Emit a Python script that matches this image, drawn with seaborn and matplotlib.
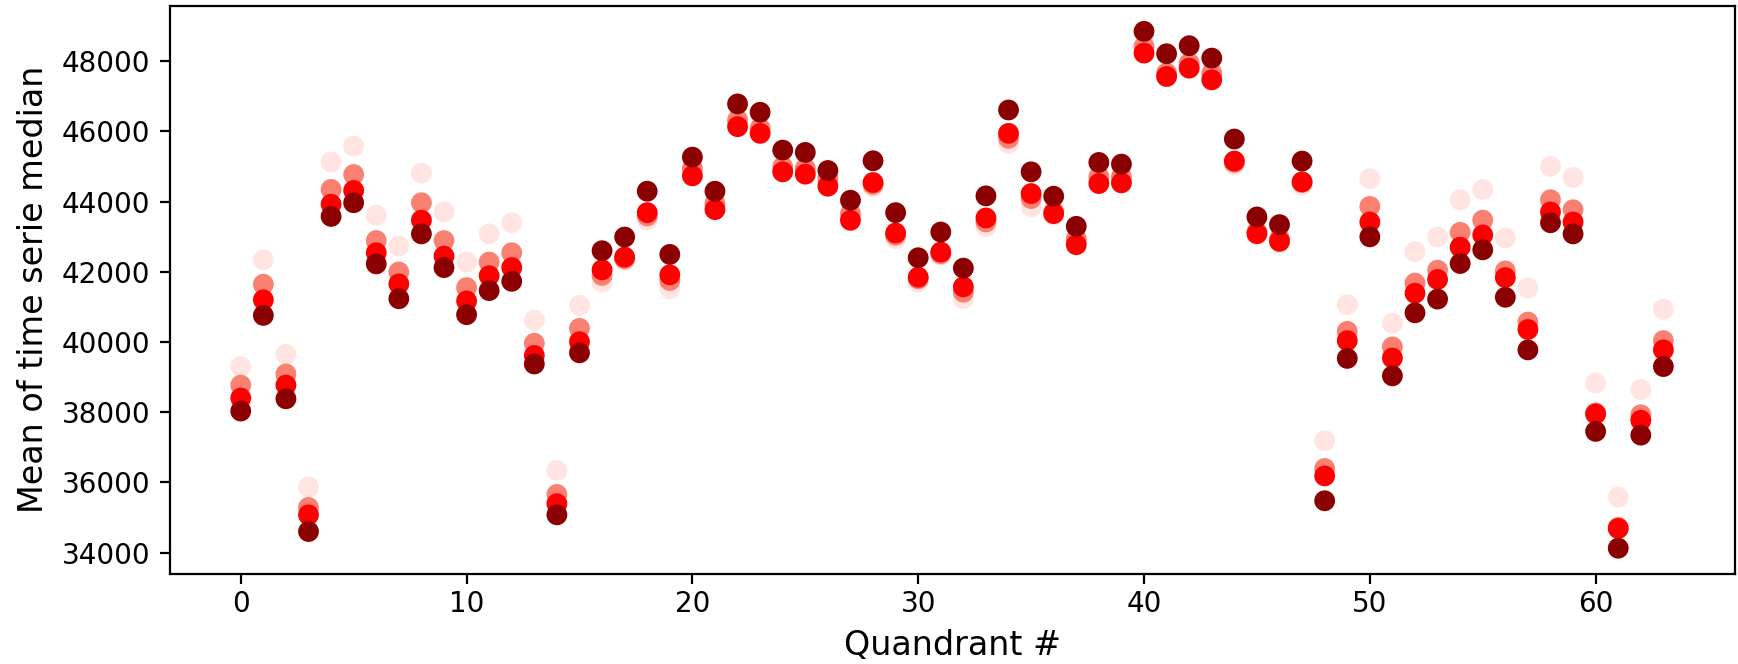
import numpy as np
import pandas as pd
import matplotlib
matplotlib.use("Agg")
import matplotlib.pyplot as plt
import seaborn as sns

quadrants = list(range(64))

# Mean of the time-series median per quadrant, one list per series
series_a = [39301, 42341, 39649, 35870, 45128, 45582, 43608, 42732, 44812, 43703,
            42278, 43080, 43397, 40621, 36345, 41043, 41704, 42324, 43466, 41514,
            44847, 43847, 46228, 45990, 44924, 44866, 44514, 43514, 44419, 42943,
            41705, 42466, 41228, 43276, 45657, 43847, 43609, 42847, 44609, 44609,
            48324, 47610, 47848, 47562, 45039, 43057, 42829, 44467, 37190, 41064,
            44653, 40536, 42574, 42996, 44052, 44347, 42964, 41539, 45002, 44685,
            38826, 35585, 38646, 40937]
series_b = [38773, 41645, 39090, 35289, 44347, 44770, 42890, 41993, 43967, 42890,
            41550, 42278, 42542, 39966, 35659, 40388, 41895, 42371, 43590, 41752,
            44943, 43943, 46324, 46085, 44990, 44943, 44657, 43657, 44486, 43038,
            41800, 42514, 41419, 43419, 45800, 44085, 43705, 42943, 44705, 44705,
            48419, 47658, 47943, 47658, 45115, 43134, 42943, 44543, 36398, 40304,
            43862, 39861, 41676, 42046, 43123, 43471, 42025, 40568, 44052, 43767,
            37980, 34720, 37929, 40040]
series_c = [38404, 41201, 38773, 35078, 43925, 44316, 42542, 41655, 43471, 42447,
            41170, 41888, 42120, 39618, 35395, 40008, 42057, 42419, 43685, 41914,
            44733, 43771, 46133, 45943, 44847, 44781, 44438, 43466, 44543, 43105,
            41847, 42562, 41571, 43533, 45943, 44228, 43657, 42771, 44514, 44533,
            48229, 47562, 47800, 47467, 45153, 43086, 42867, 44562, 36187, 40040,
            43418, 39544, 41391, 41782, 42700, 43049, 41835, 40357, 43703, 43418,
            37950, 34688, 37770, 39776]
series_d = [38034, 40758, 38383, 34603, 43577, 43967, 42225, 41233, 43080, 42120,
            40779, 41465, 41729, 39375, 35078, 39692, 42600, 42990, 44295, 42495,
            45266, 44295, 46781, 46543, 45466, 45400, 44885, 44038, 45162, 43685,
            42400, 43133, 42104, 44162, 46609, 44847, 44152, 43295, 45114, 45066,
            48848, 48210, 48439, 48086, 45781, 43562, 43343, 45153, 35479, 39533,
            42996, 39037, 40832, 41222, 42236, 42626, 41275, 39776, 43397, 43080,
            37454, 34128, 37348, 39301]

series_names = ["a", "b", "c", "d"]
series_colors = ["mistyrose", "salmon", "red", "darkred"]

frames = []
for name, vals in zip(series_names, [series_a, series_b, series_c, series_d]):
    frames.append(pd.DataFrame({"quadrant": quadrants, "value": vals, "series": name}))
df = pd.concat(frames, ignore_index=True)

fig = plt.figure(figsize=(8.69, 3.32), dpi=200)
ax = fig.add_axes([0.0976, 0.1355, 0.9004, 0.8562])

sns.scatterplot(data=df, x="quadrant", y="value", hue="series",
                hue_order=series_names, palette=series_colors,
                s=56, linewidth=0, legend=False, ax=ax)

ax.set_xlabel("Quandrant #", fontsize=12)
ax.set_ylabel("Mean of time serie median", fontsize=12)
ax.tick_params(labelsize=10)
ax.tick_params(axis="x", pad=2.2)
ax.set_yticks([34000, 36000, 38000, 40000, 42000, 44000, 46000, 48000])

fig.savefig("out.png", dpi=200)
